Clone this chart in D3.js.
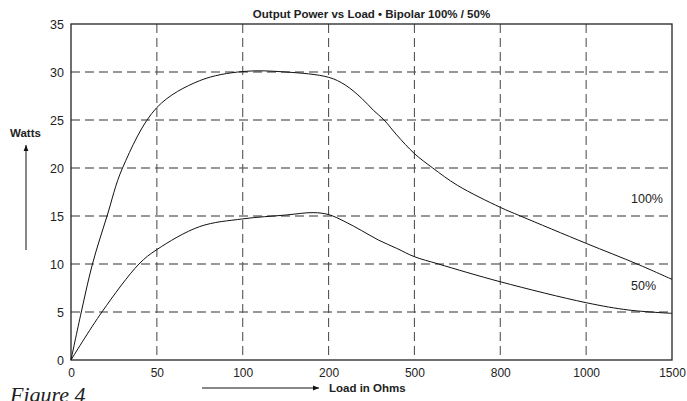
<!DOCTYPE html>
<html>
<head>
<meta charset="utf-8">
<script src="https://cdn.jsdelivr.net/npm/d3@7"></script>
<style>
  body { margin: 0; background: #fff; }
  text { font-family: "Liberation Sans", Arial, sans-serif; fill: #222; }
</style>
</head>
<body>
<script>
// data
var loadTicks = [0, 50, 100, 200, 500, 800, 1000, 1500];
var wattTicks = [0, 5, 10, 15, 20, 25, 30, 35];

var load100 = [0, 6, 12.5, 21, 30, 50, 75, 100, 150, 200, 258, 316, 357, 394, 438, 500, 564, 650, 800, 847, 1000, 1297, 1500];
var watt100 = [0, 5, 10, 15, 20, 26.3, 29.1, 30.05, 30.0, 29.45, 28.65, 27.25, 26.0, 25.0, 23.45, 21.5, 20, 18.2, 15.9, 15, 12.15, 10, 8.4];

var load50 = [0, 18, 39.6, 50, 75, 100, 150, 182, 200, 258, 316, 374, 438, 500, 584, 800, 1000, 1250, 1500];
var watt50 = [0, 5, 10, 11.5, 13.9, 14.7, 15.1, 15.35, 15.15, 14.4, 13.47, 12.5, 11.63, 10.76, 10, 8.15, 5.97, 5.2, 4.86];

function main() {
  var svg = d3.select("body")
              .append("svg")
              .attr("width", 687)
              .attr("height", 401);

  var margin = {top: 24, right: 15, bottom: 41, left: 71};
  var width = 687 - margin.left - margin.right;
  var height = 401 - margin.top - margin.bottom;

  var g = svg.append("g")
             .attr("transform", "translate(" + margin.left + "," + margin.top + ")");

  // x ticks are evenly spaced although the loads are not
  var xScale = d3.scaleLinear()
                 .domain(loadTicks)
                 .range(loadTicks.map(function(d, i) { return i * width / (loadTicks.length - 1); }));

  var yScale = d3.scaleLinear()
                 .domain([0, 35])
                 .range([height, 0]);

  // dashed grid
  g.selectAll(".hgrid")
   .data(wattTicks.slice(1, -1))
   .join("line")
   .attr("x1", 0).attr("x2", width)
   .attr("y1", d => yScale(d)).attr("y2", d => yScale(d))
   .attr("stroke", "#333")
   .attr("stroke-width", 1.1)
   .attr("stroke-dasharray", "9,5");

  g.selectAll(".vgrid")
   .data(loadTicks.slice(1, -1))
   .join("line")
   .attr("x1", d => xScale(d)).attr("x2", d => xScale(d))
   .attr("y1", 0).attr("y2", height)
   .attr("stroke", "#555")
   .attr("stroke-width", 1.1)
   .attr("stroke-dasharray", "9,5");

  // frame
  g.append("rect")
   .attr("width", width)
   .attr("height", height)
   .attr("fill", "none")
   .attr("stroke", "#222")
   .attr("stroke-width", 1.3);

  // axes
  var xAxis = g.append("g")
               .attr("transform", "translate(0," + height + ")")
               .call(d3.axisBottom(xScale).tickValues(loadTicks).tickFormat(d3.format("d")).tickSize(0).tickPadding(8));
  xAxis.select(".domain").remove();
  xAxis.selectAll("text")
       .style("font-family", "Liberation Sans, Arial, sans-serif")
       .style("font-size", "12px")
       .attr("fill", "#222");

  var yAxis = g.append("g")
               .call(d3.axisLeft(yScale).tickValues(wattTicks).tickSize(0).tickPadding(7));
  yAxis.select(".domain").remove();
  yAxis.selectAll("text")
       .style("font-family", "Liberation Sans, Arial, sans-serif")
       .style("font-size", "12.5px")
       .attr("fill", "#222");

  // curves
  var line = d3.line()
               .x(d => xScale(d[0]))
               .y(d => yScale(d[1]))
               .curve(d3.curveCatmullRom.alpha(0.5));

  var series = [d3.zip(load100, watt100), d3.zip(load50, watt50)];

  g.selectAll(".curve")
   .data(series)
   .join("path")
   .attr("class", "curve")
   .attr("d", line)
   .attr("fill", "none")
   .attr("stroke", "#111")
   .attr("stroke-width", 1);

  g.append("text")
   .attr("x", 560).attr("y", 178.5)
   .style("font-size", "12.5px")
   .text("100%");

  g.append("text")
   .attr("x", 560).attr("y", 266)
   .style("font-size", "12.5px")
   .text("50%");

  // titles
  svg.append("text")
     .attr("x", margin.left + width / 2)
     .attr("y", 18)
     .attr("text-anchor", "middle")
     .style("font-size", "11.5px")
     .style("font-weight", "bold")
     .text("Output Power vs Load \u2022 Bipolar 100% / 50%");

  svg.append("text")
     .attr("x", 10)
     .attr("y", 137)
     .style("font-size", "11.5px")
     .style("font-weight", "bold")
     .text("Watts");

  svg.append("text")
     .attr("x", 329)
     .attr("y", 392)
     .style("font-size", "11.5px")
     .style("font-weight", "bold")
     .text("Load in Ohms");

  // caption is cropped by the bottom edge, as in the original scan
  svg.append("text")
     .attr("x", 10)
     .attr("y", 402)
     .style("font-family", "Liberation Serif, serif")
     .style("font-style", "italic")
     .style("font-size", "22px")
     .attr("fill", "#333")
     .text("Figure 4");

  // arrows
  var defs = svg.append("defs");
  defs.append("marker")
      .attr("id", "head")
      .attr("viewBox", "0 0 10 10")
      .attr("refX", 10).attr("refY", 5)
      .attr("markerWidth", 6).attr("markerHeight", 6)
      .attr("markerUnits", "userSpaceOnUse")
      .attr("orient", "auto")
      .append("path")
      .attr("d", "M0,1 L10,5 L0,9 Z")
      .attr("fill", "#111");

  svg.append("line")
     .attr("x1", 26).attr("y1", 250)
     .attr("x2", 26).attr("y2", 145)
     .attr("stroke", "#111")
     .attr("stroke-width", 1)
     .attr("marker-end", "url(#head)");

  svg.append("line")
     .attr("x1", 202).attr("y1", 388)
     .attr("x2", 319).attr("y2", 388)
     .attr("stroke", "#111")
     .attr("stroke-width", 1)
     .attr("marker-end", "url(#head)");
}
main();
</script>
</body>
</html>
